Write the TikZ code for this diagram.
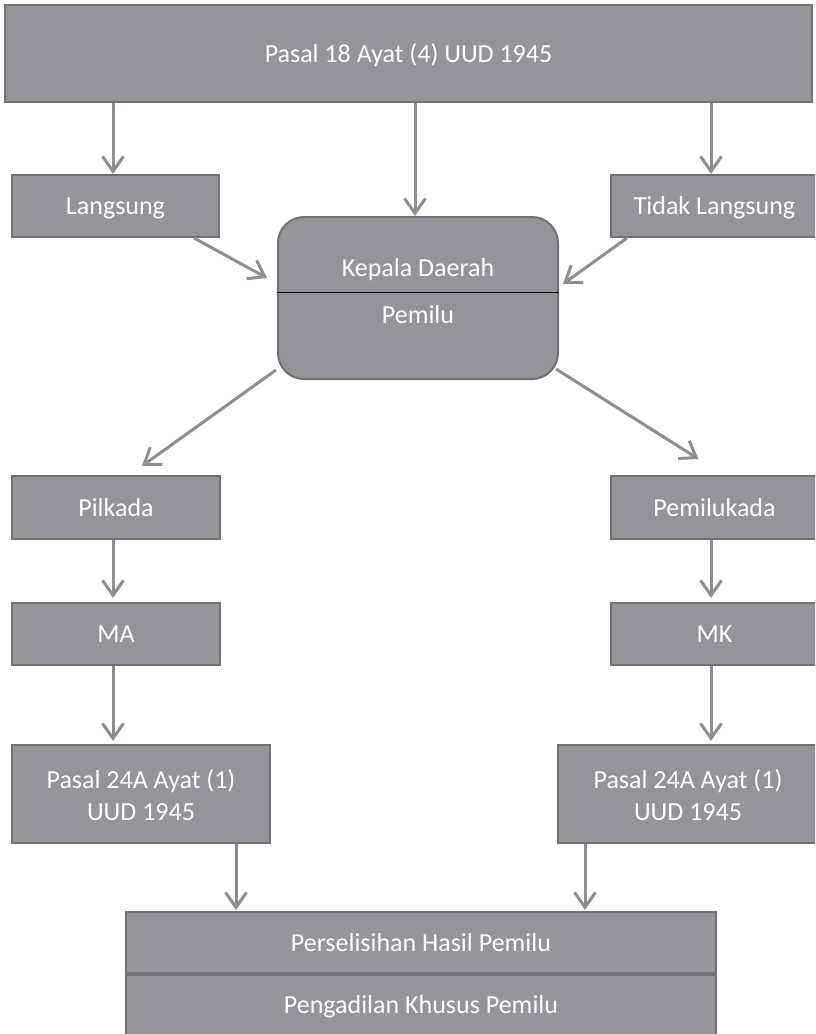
\documentclass[tikz,border=0pt]{standalone}
\usepackage{fontspec}
\setmainfont{Carlito}
\usetikzlibrary{arrows.meta,calc}
\definecolor{boxfill}{RGB}{147,149,152}
\definecolor{boxline}{RGB}{112,113,116}
\definecolor{arrowc}{RGB}{141,142,145}
\begin{document}
\begin{tikzpicture}[x=1pt,y=-1pt,
  box/.style={draw=boxline, line width=2pt, fill=boxfill, text=white,
    font=\fontsize{26}{32}\selectfont, inner sep=0pt, text height=17pt, text depth=0pt},
  rbox/.style={box, rounded corners=26pt},
  txt/.style={text=white, font=\fontsize{26}{32}\selectfont, inner sep=0pt, text height=17pt, text depth=0pt},
  arr/.style={draw=arrowc, line width=3pt, -{Straight Barb[length=15pt,width=21pt,line width=3pt]}}]
\useasboundingbox (0,0) rectangle (815,1034);
\clip (0,0) rectangle (815,1034);

% boxes
\node[box, minimum width=807pt, minimum height=97pt] (top) at (408.5,53.5) {Pasal 18 Ayat (4) UUD 1945};
\node[box, minimum width=207pt, minimum height=62pt] (lang) at (115.5,206) {Langsung};
\node[box, minimum width=207pt, minimum height=62pt] (tidak) at (714.5,206) {Tidak Langsung};
\node[rbox, minimum width=280pt, minimum height=162pt] (kd) at (418,298) {};
\coordinate (dv) at (0,292);
\draw[black, line width=0.9pt] (kd.west |- dv) -- (kd.east |- dv);
\node[txt] (kdt) at (418,267.5) {Kepala Daerah};
\node[txt] (pemt) at (418,314.5) {Pemilu};

\node[box, minimum width=208pt, minimum height=63pt] (pil) at (116,507.5) {Pilkada};
\node[box, minimum width=207pt, minimum height=63pt] (pmk) at (714.5,507.5) {Pemilukada};
\node[box, minimum width=208pt, minimum height=62pt] (ma) at (116,634) {MA};
\node[box, minimum width=207pt, minimum height=62pt] (mk) at (714.5,634) {MK};

\node[box, minimum width=258pt, minimum height=98pt] (psl) at (141,794) {};
\node[txt] (psl1) at (141,780) {Pasal 24A Ayat (1)};
\node[txt] (psl2) at (141,812) {UUD 1945};
\node[box, minimum width=260pt, minimum height=98pt] (psr) at (688,794) {};
\node[txt] (psr1) at (688,780) {Pasal 24A Ayat (1)};
\node[txt] (psr2) at (688,812) {UUD 1945};

\node[box, minimum width=590pt, minimum height=61pt] (bot1) at (421,942.5) {Perselisihan Hasil Pemilu};
\node[box, minimum width=590pt, minimum height=64pt] (bot2) at (421,1005) {Pengadilan Khusus Pemilu};
\draw[boxline, line width=3.5pt] (bot1.south west) -- (bot1.south east);

% connectors
\draw[arr] ([xshift=-2.5pt]lang.north |- top.south) -- ([xshift=-2.5pt]lang.north);
\draw[arr] ([xshift=-3pt]kd.north |- top.south) -- ([xshift=-3pt]kd.north);
\draw[arr] ([xshift=-3.5pt]tidak.north |- top.south) -- ([xshift=-3.5pt]tidak.north);

\draw[arr] ([xshift=-26pt]lang.south east) -- ([xshift=-10pt,yshift=20pt]kd.west);
\draw[arr] ([xshift=17pt]tidak.south west) -- ([xshift=4pt,yshift=14pt]kd.east);

\draw[arr] ([xshift=-1pt,yshift=10pt]kd.south west) -- ([xshift=26pt,yshift=9pt]pil.north);
\draw[arr] ([xshift=-3pt,yshift=11pt]kd.south east) -- ([xshift=-16pt,yshift=16pt]pmk.north);

\draw[arr] ([xshift=-3pt]pil.south) -- ([xshift=-3pt,yshift=4pt]ma.north);
\draw[arr] ([xshift=-3pt]ma.south) -- ([xshift=-3pt,yshift=3pt]ma.south |- psl.north);
\draw[arr] ([xshift=-3.5pt]pmk.south) -- ([xshift=-3.5pt,yshift=4pt]mk.north);
\draw[arr] ([xshift=-3.5pt]mk.south) -- ([xshift=-3.5pt,yshift=3pt]mk.south |- psr.north);

\draw[arr] ([xshift=95pt]psl.south) -- ([xshift=-185pt,yshift=1pt]bot1.north);
\draw[arr] ([xshift=-103pt]psr.south) -- ([xshift=164pt,yshift=1pt]bot1.north);
\end{tikzpicture}
\end{document}
